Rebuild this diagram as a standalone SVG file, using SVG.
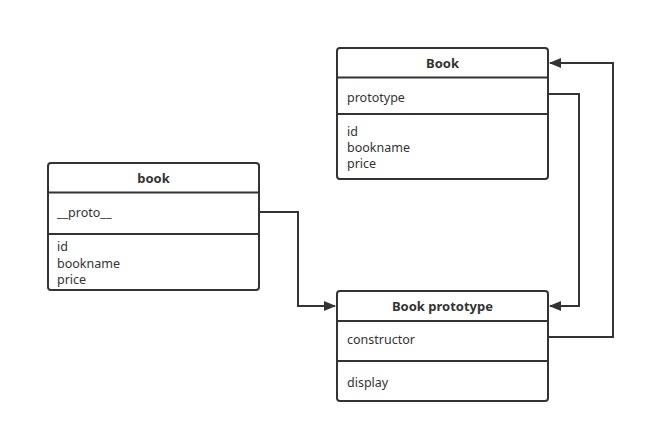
<svg xmlns="http://www.w3.org/2000/svg" width="646" height="433" viewBox="0 0 646 433">
<style>
.box{fill:#fff;stroke:#333;stroke-width:2}
.div{stroke:#333;stroke-width:2}
.t{font-family:"Noto Sans","Open Sans",sans-serif;font-size:12.5px;fill:#333}
.h{font-weight:bold;text-anchor:middle;font-size:13px}
.c{fill:none;stroke:#333;stroke-width:2}
</style>
<defs>
<marker id="arr" markerWidth="12" markerHeight="10" refX="11" refY="5" orient="auto" markerUnits="userSpaceOnUse">
<path d="M0,0 L12,5 L0,10 z" fill="#333"/>
</marker>
</defs>
<rect width="646" height="433" fill="#fff"/>
<g id="connectors">
<path class="c" d="M259,212 H298 V306 H335" marker-end="url(#arr)"/>
<path class="c" d="M548,94 H579 V306 H550" marker-end="url(#arr)"/>
<path class="c" d="M548,337 H613 V63 H550" marker-end="url(#arr)"/>
</g>
<g id="Book">
<rect class="box" x="337" y="48" width="211" height="131" rx="3"/>
<line class="div" x1="337" y1="77.5" x2="548" y2="77.5"/>
<line class="div" x1="337" y1="114" x2="548" y2="114"/>
<text class="t h" x="442.5" y="68">Book</text>
<text class="t" x="347" y="102">prototype</text>
<text class="t" x="347" y="136">id</text>
<text class="t" x="347" y="152">bookname</text>
<text class="t" x="347" y="168">price</text>
</g>
<g id="book">
<rect class="box" x="48" y="163" width="211" height="127" rx="3"/>
<line class="div" x1="48" y1="192.5" x2="259" y2="192.5"/>
<line class="div" x1="48" y1="234" x2="259" y2="234"/>
<text class="t h" x="153.5" y="183">book</text>
<text class="t" x="57" y="217">__proto__</text>
<text class="t" x="57" y="251">id</text>
<text class="t" x="57" y="268">bookname</text>
<text class="t" x="57" y="284">price</text>
</g>
<g id="BookPrototype">
<rect class="box" x="337" y="291" width="211" height="110" rx="3"/>
<line class="div" x1="337" y1="321" x2="548" y2="321"/>
<line class="div" x1="337" y1="361" x2="548" y2="361"/>
<text class="t h" x="442.5" y="311">Book prototype</text>
<text class="t" x="347" y="344">constructor</text>
<text class="t" x="347" y="387">display</text>
</g>
</svg>
